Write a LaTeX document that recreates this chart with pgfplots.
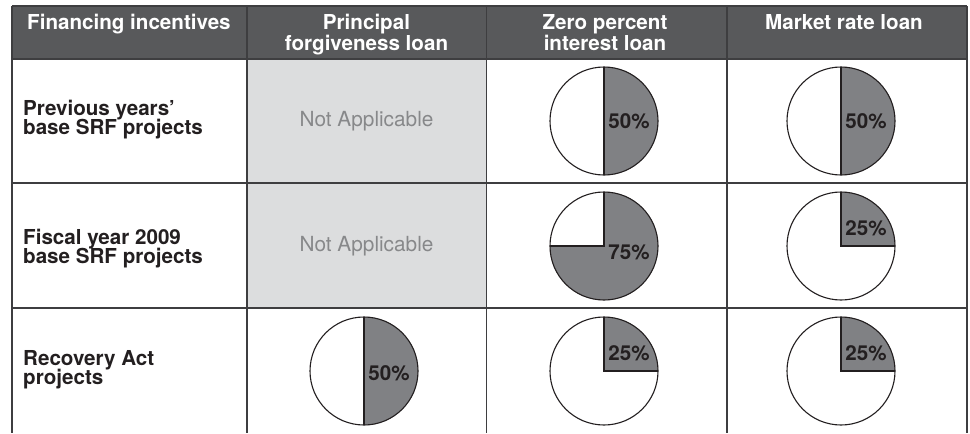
\documentclass[border=0pt]{standalone}
\usepackage{pgfplots}
\usepackage{pgfplotstable}
\pgfplotsset{compat=1.18}
\usepackage{fontspec}
\setmainfont{TeX Gyre Heros}
\definecolor{hdr}{HTML}{58595B}
\definecolor{piegray}{HTML}{808184}
\definecolor{nabg}{HTML}{DCDDDE}
\definecolor{natext}{HTML}{87888A}
\definecolor{txt}{HTML}{231F20}
\definecolor{rule}{HTML}{3E3E40}
\newcommand\hfont{\fontsize{20.6}{20}\selectfont\bfseries}
\newcommand\nafont{\fontsize{20.8}{20}\selectfont}
\newcommand\pfont{\fontsize{20.6}{20}\selectfont\bfseries}

% pie data: centre (x,y) in picture pixels (y downward), share in percent, label offset
\pgfplotstableread{
x   y   share dx dy
604 121 50    25 0
841 121 50    25 0
604 246 75    25 6
841 246 25    25 -18
364 371 50    25 2
604 371 25    25 -18
841 371 25    25 -18
}\pies

\pgfdeclareplotmark{pie}{%
  \fill[piegray] (0pt,0pt) -- (0pt,54pt) arc[start angle=90, end angle={90-3.6*\share}, radius=54pt] -- cycle;
  \draw[txt, line width=1.1pt] (0pt,0pt) circle[radius=54pt];
  \draw[txt, line width=1.1pt] (0pt,54pt) -- (0pt,0pt) -- ({90-3.6*\share}:54pt);
}

\begin{document}
\begin{tikzpicture}
\begin{axis}[
  width=970pt, height=433pt, scale only axis,
  xmin=0, xmax=970, ymin=0, ymax=433, y dir=reverse,
  hide axis, clip=false,
]
% background
\fill[white] (axis cs:0,0) rectangle (axis cs:970,433);
\fill[hdr] (axis cs:12,6) rectangle (axis cs:967,59);
\fill[nabg] (axis cs:247,59) rectangle (axis cs:486.5,308);
% grid
\draw[rule, line width=1.5pt] (axis cs:12,6) -- (axis cs:967,6);
\foreach \yy in {59,183,308}{
  \edef\tmp{\noexpand\draw[rule, line width=1.5pt] (axis cs:12,\yy) -- (axis cs:967,\yy);}\tmp
}
\foreach \xx in {12,247,486.5,727,967}{
  \edef\tmp{\noexpand\draw[rule, line width=1.5pt] (axis cs:\xx,6) -- (axis cs:\xx,433);}\tmp
}
% header text
\node[anchor=base west, text=white, font=\hfont, inner sep=0pt] at (axis cs:27,29.5) {Financing incentives};
\node[anchor=base, text=white, font=\hfont, inner sep=0pt] at (axis cs:366.5,29.5) {Principal};
\node[anchor=base, text=white, font=\hfont, inner sep=0pt] at (axis cs:366.5,50) {forgiveness loan};
\node[anchor=base, text=white, font=\hfont, inner sep=0pt] at (axis cs:605,29.5) {Zero percent};
\node[anchor=base, text=white, font=\hfont, inner sep=0pt] at (axis cs:605,50) {interest loan};
\node[anchor=base, text=white, font=\hfont, inner sep=0pt] at (axis cs:844,29.5) {Market rate loan};
% row labels
\node[anchor=base west, text=txt, font=\hfont, inner sep=0pt] at (axis cs:23,115) {Previous years’};
\node[anchor=base west, text=txt, font=\hfont, inner sep=0pt] at (axis cs:23,134.5) {base SRF projects};
\node[anchor=base west, text=txt, font=\hfont, inner sep=0pt] at (axis cs:23,244) {Fiscal year 2009};
\node[anchor=base west, text=txt, font=\hfont, inner sep=0pt] at (axis cs:23,263.5) {base SRF projects};
\node[anchor=base west, text=txt, font=\hfont, inner sep=0pt] at (axis cs:23,365) {Recovery Act};
\node[anchor=base west, text=txt, font=\hfont, inner sep=0pt] at (axis cs:23,384.5) {projects};
% not applicable
\node[anchor=base, text=natext, font=\nafont, inner sep=0pt] at (axis cs:366.5,126.7) {Not Applicable};
\node[anchor=base, text=natext, font=\nafont, inner sep=0pt] at (axis cs:366.5,251.7) {Not Applicable};
% pies
\addplot[only marks, mark=pie, visualization depends on={\thisrow{share}\as\share}]
  table[x=x, y=y]{\pies};
% pie labels
\addplot[draw=none, mark=none, point meta=\thisrow{share},
  /pgf/number format/assume math mode=true,
  nodes near coords={\pgfmathprintnumber{\pgfplotspointmeta}\%},
  nodes near coords style={anchor=center, inner sep=0pt, font=\pfont, text=txt}]
  table[x expr=\thisrow{x}+\thisrow{dx}, y expr=\thisrow{y}+\thisrow{dy}]{\pies};
\end{axis}
\end{tikzpicture}
\end{document}
